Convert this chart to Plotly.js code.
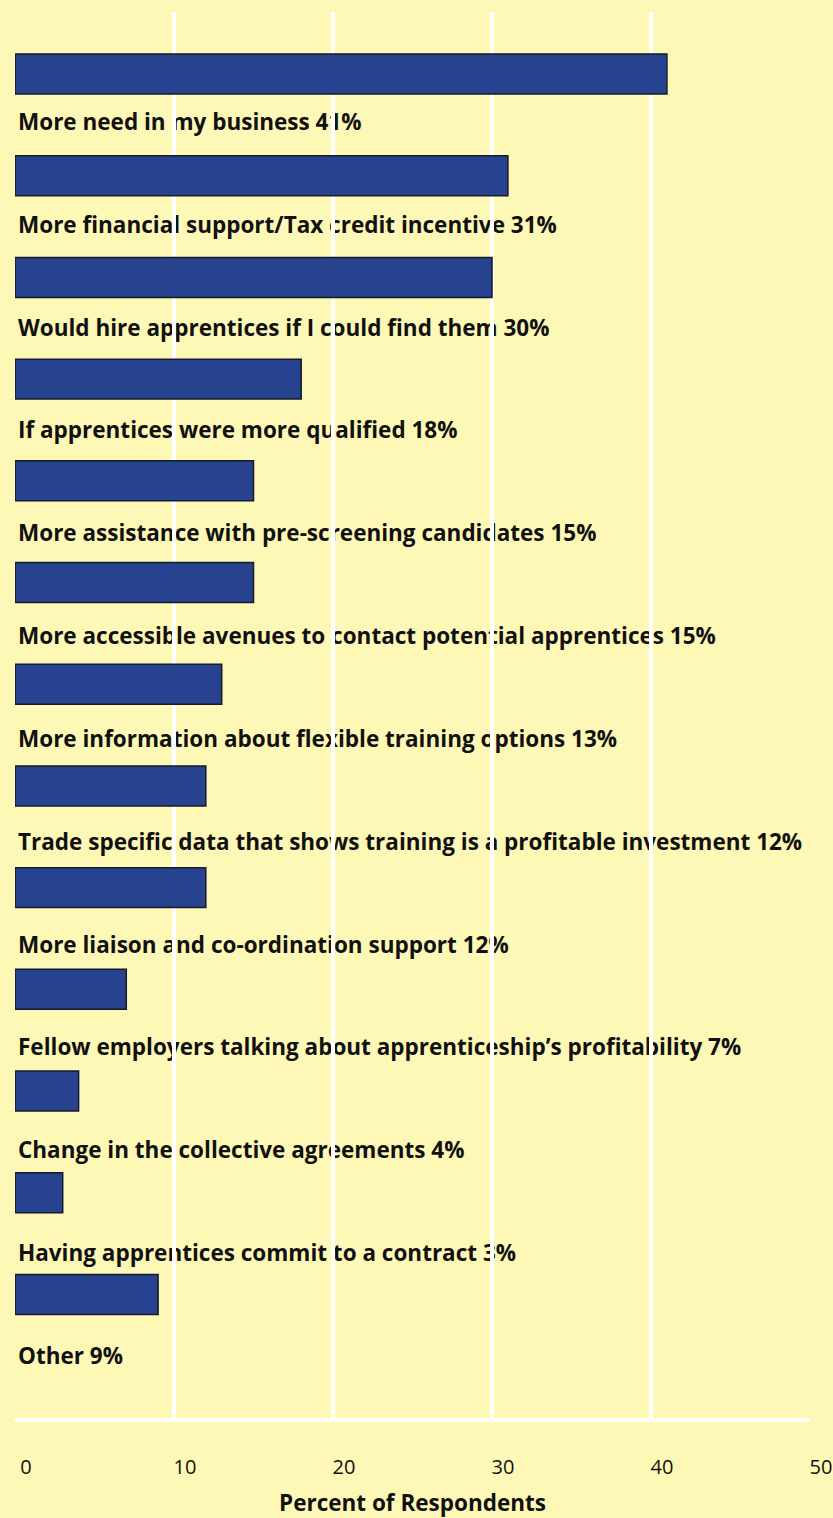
<!DOCTYPE html>
<html>
<head>
<meta charset="utf-8">
<script src="https://cdn.plot.ly/plotly-3.0.1.min.js"></script>
<style>html,body{margin:0;padding:0;background:#FEF8B6;}</style>
</head>
<body>
<div id="chart" style="width:833px;height:1518px;"></div>
<script>
const categories = [
  "More need in my business",
  "More financial support/Tax credit incentive",
  "Would hire apprentices if I could find them",
  "If apprentices were more qualified",
  "More assistance with pre-screening candidates",
  "More accessible avenues to contact potential apprentices",
  "More information about flexible training options",
  "Trade specific data that shows training is a profitable investment",
  "More liaison and co-ordination support",
  "Fellow employers talking about apprenticeship\u2019s profitability",
  "Change in the collective agreements",
  "Having apprentices commit to a contract",
  "Other"
];
const values = [41, 31, 30, 18, 15, 15, 13, 12, 12, 7, 4, 3, 9];
const xTicks = [0, 10, 20, 30, 40, 50];

const pos = categories.map((c, i) => i);
const labels = categories.map((c, i) => c + " " + values[i] + "%");

const bg = "#FEF8B6";
const FONT = "Open Sans, sans-serif";

const data = [
  {
    type: "scatter", mode: "markers+text", xaxis: "x", yaxis: "y",
    x: pos.map(() => 0), y: pos, text: labels,
    marker: {size: 3.2, opacity: 0},
    textposition: "middle right", cliponaxis: false,
    textfont: {family: FONT, size: 22.5, weight: 700, color: "#111111"},
    hoverinfo: "skip", showlegend: false
  },
  {
    type: "bar", orientation: "h", xaxis: "x2", yaxis: "y2",
    x: values, y: pos, width: 0.393,
    marker: {color: "#27428F", line: {color: "#151a2c", width: 1.5}},
    hoverinfo: "skip", showlegend: false
  }
];

const layout = {
  width: 833, height: 1518,
  margin: {l: 15, r: 23, t: 12, b: 100},
  paper_bgcolor: bg, plot_bgcolor: "rgba(0,0,0,0)",
  showlegend: false,
  xaxis: {domain: [0, 1], anchor: "y", range: [0, 50], visible: false, fixedrange: true},
  yaxis: {domain: [0, 1], anchor: "x", range: [12.581, -1.0916], visible: false, fixedrange: true},
  xaxis2: {
    domain: [0, 1], anchor: "y2", range: [0, 50],
    tickvals: xTicks, ticktext: xTicks.map(String),
    showgrid: true, gridcolor: "#FFFFFF", gridwidth: 4,
    zeroline: false, showline: true, linecolor: "#FFFFFF", linewidth: 4,
    ticks: "", ticklabelstandoff: 28, ticklabelshift: 11,
    tickfont: {family: FONT, size: 20, color: "#111111"},
    title: {text: "Percent of Respondents", standoff: 21,
      font: {family: FONT, size: 22.5, weight: 700, color: "#111111"}},
    fixedrange: true
  },
  yaxis2: {
    domain: [0, 1], anchor: "x2", range: [13.215, -0.61],
    showgrid: false, zeroline: false, showticklabels: false, ticks: "",
    fixedrange: true
  }
};

Plotly.newPlot("chart", data, layout, {displayModeBar: false, staticPlot: true});
</script>
</body>
</html>
